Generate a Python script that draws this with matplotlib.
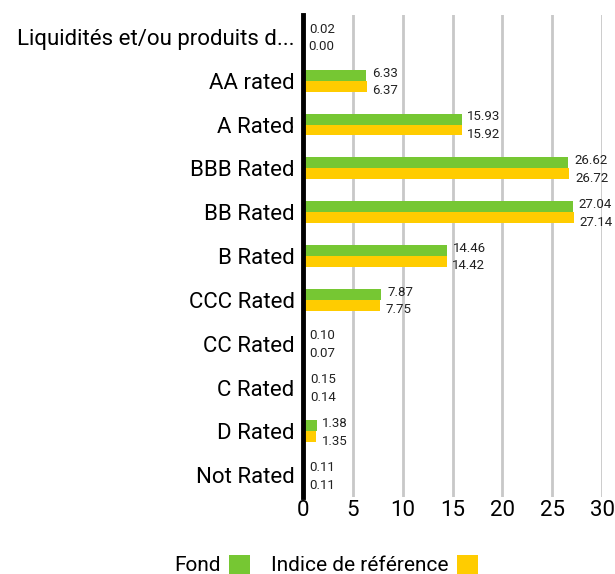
import matplotlib.pyplot as plt
import numpy as np

categories = ["Liquidités et/ou produits d...", "AA rated", "A Rated", "BBB Rated",
              "BB Rated", "B Rated", "CCC Rated", "CC Rated", "C Rated", "D Rated", "Not Rated"]
fond = [0.02, 6.33, 15.93, 26.62, 27.04, 14.46, 7.87, 0.10, 0.15, 1.38, 0.11]
indice = [0.00, 6.37, 15.92, 26.72, 27.14, 14.42, 7.75, 0.07, 0.14, 1.35, 0.11]
xticks = [0, 5, 10, 15, 20, 25, 30]

green = "#76C733"
yellow = "#FFCC00"
plt.rcParams['font.family'] = ['Roboto', 'DejaVu Sans']

fig = plt.figure(figsize=(6.15, 5.74), dpi=100)
ax = fig.add_axes([0.4927, 0.134, 0.4863, 0.84])

y = np.arange(len(categories))
h = 0.25
b1 = ax.barh(y - h / 2, fond, height=h, color=green, label="Fond", zorder=3)
b2 = ax.barh(y + h / 2, indice, height=h, color=yellow, label="Indice de référence", zorder=3)

for i in range(len(categories)):
    ax.annotate(f"{fond[i]:.2f}", (fond[i], y[i] - h / 2 - 0.05), xytext=(4, 0),
                textcoords="offset points", va="center", ha="left", fontsize=9.5, color="#222222")
    ax.annotate(f"{indice[i]:.2f}", (indice[i], y[i] + h / 2 + 0.1), xytext=(4, 0),
                textcoords="offset points", va="center", ha="left", fontsize=9.5, color="#222222")

ax.set_ylim(len(categories) - 0.5, -0.5)
ax.set_xlim(0, 30)
ax.set_xticks(xticks)
ax.set_yticks(y)
ax.set_yticklabels(categories, fontsize=16)
ax.tick_params(axis="x", labelsize=16, length=0, pad=2)
ax.tick_params(axis="y", length=0, pad=6)
ax.xaxis.grid(True, color="#C8C8C8", linewidth=2, zorder=0)
for s in ["top", "right", "bottom"]:
    ax.spines[s].set_visible(False)
ax.spines["left"].set_linewidth(3.5)
ax.spines["left"].set_color("black")
ax.spines["left"].set_zorder(5)

fig.legend(handles=[b1, b2], loc="lower center", bbox_to_anchor=(0.53, -0.035), ncol=2,
           frameon=False, markerfirst=False, fontsize=15, handlelength=1.0,
           handleheight=1.0, handletextpad=0.4, columnspacing=1.0)

fig.savefig("out.png", dpi=100)
